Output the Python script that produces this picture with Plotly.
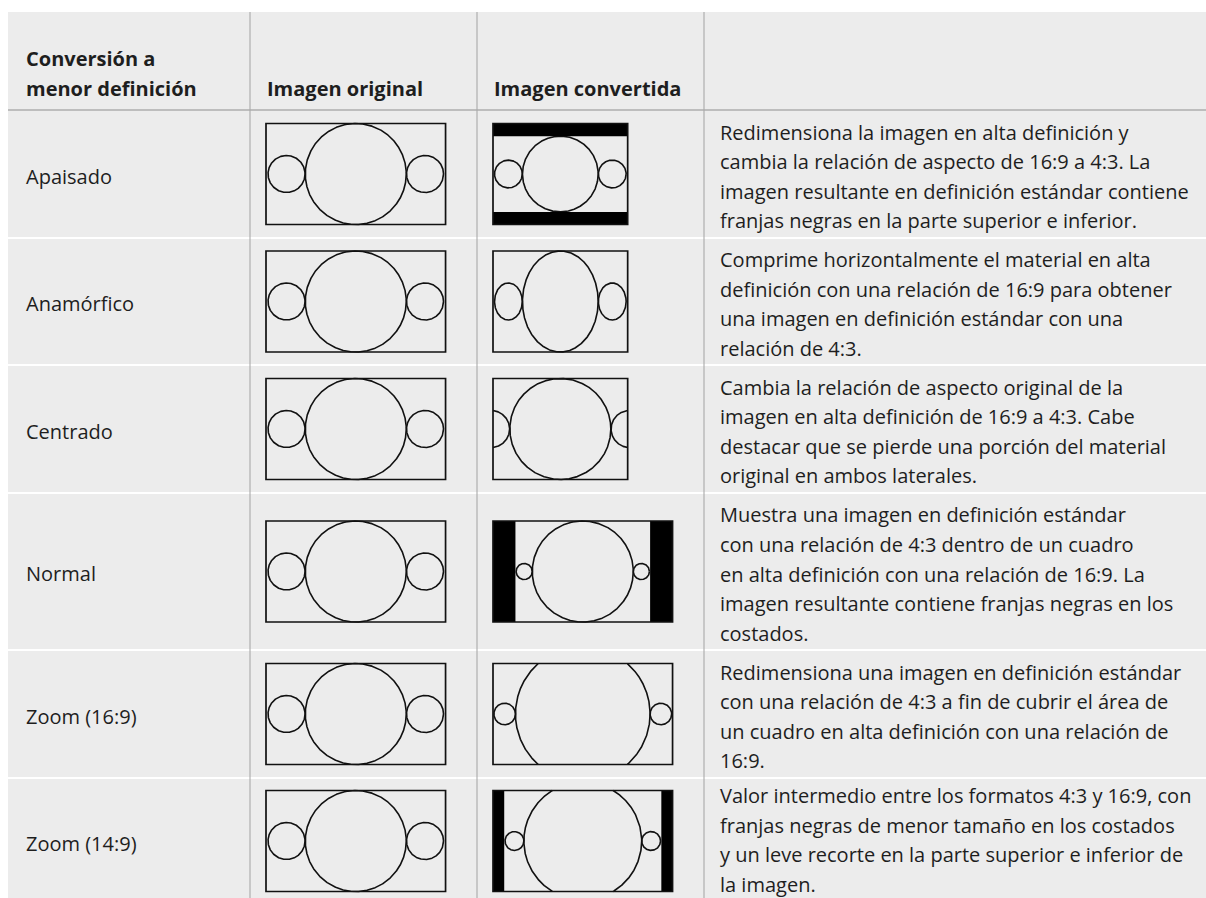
import numpy as np
import plotly.graph_objects as go

W, H = 1206, 898

# ---------------- data ----------------
header_col1 = ["Conversión a", "menor definición"]
header_col2 = "Imagen original"
header_col3 = "Imagen convertida"

modes = ["Apaisado", "Anamórfico", "Centrado", "Normal", "Zoom (16:9)", "Zoom (14:9)"]

descriptions = [
    ["Redimensiona la imagen en alta definición y",
     "cambia la relación de aspecto de 16:9 a 4:3. La",
     "imagen resultante en definición estándar contiene",
     "franjas negras en la parte superior e inferior."],
    ["Comprime horizontalmente el material en alta",
     "definición con una relación de 16:9 para obtener",
     "una imagen en definición estándar con una",
     "relación de 4:3."],
    ["Cambia la relación de aspecto original de la",
     "imagen en alta definición de 16:9 a 4:3. Cabe",
     "destacar que se pierde una porción del material",
     "original en ambos laterales."],
    ["Muestra una imagen en definición estándar",
     "con una relación de 4:3 dentro de un cuadro",
     "en alta definición con una relación de 16:9. La",
     "imagen resultante contiene franjas negras en los",
     "costados."],
    ["Redimensiona una imagen en definición estándar",
     "con una relación de 4:3 a fin de cubrir el área de",
     "un cuadro en alta definición con una relación de",
     "16:9."],
    ["Valor intermedio entre los formatos 4:3 y 16:9, con",
     "franjas negras de menor tamaño en los costados",
     "y un leve recorte en la parte superior e inferior de",
     "la imagen."],
]

# source pictures (units: picture height = 9)
hd_size = (16.0, 9.0)
hd_circles = [(8.0, 4.5, 4.5), (1.83, 4.5, 1.65), (14.17, 4.5, 1.65)]
sd_size = (12.0, 9.0)
sd_circles = [(6.0, 4.5, 4.5), (0.78, 4.5, 0.72), (11.22, 4.5, 0.72)]

# per row conversion: source, output frame width, scale x, scale y
conv_source = ["hd", "hd", "hd", "sd", "sd", "sd"]
conv_out_w = [12.0, 12.0, 12.0, 16.0, 16.0, 16.0]
conv_sx = [0.75, 0.75, 1.0, 1.0, 4 / 3, 7 / 6]
conv_sy = [0.75, 1.0, 1.0, 1.0, 4 / 3, 7 / 6]

# ---------------- layout constants ----------------
table_left, table_top = 8, 12
header_bottom = 110
row_edges = [110, 238, 365, 493, 650, 778, 908]
col_lines = [250, 477, 704]
grey = "#ececec"
ink = "#111111"
text_col = "#1e1e1e"
FONT = "Open Sans"
FS = 20
LINE_GAP = 29.6
frame_h = 101.0
unit = frame_h / 9.0
orig_left = 266
conv_left = 493

fig = go.Figure()
shapes = []
annotations = []

shapes.append(dict(type="rect", xref="x", yref="y", x0=table_left, x1=W + 5,
                   y0=table_top, y1=H + 5, fillcolor=grey, line=dict(width=0), layer="below"))
shapes.append(dict(type="line", xref="x", yref="y", x0=table_left, x1=W + 5,
                   y0=header_bottom, y1=header_bottom, line=dict(color="#bdbdbd", width=2.2), layer="below"))
for y in row_edges[1:-1]:
    shapes.append(dict(type="line", xref="x", yref="y", x0=table_left, x1=W + 5,
                       y0=y, y1=y, line=dict(color="#ffffff", width=2), layer="below"))
for x in col_lines:
    shapes.append(dict(type="line", xref="x", yref="y", x0=x, x1=x,
                       y0=table_top, y1=H + 5, line=dict(color="#a9a9a9", width=1.1), layer="below"))

cx_all, cy_all = [], []


def add_picture(left, top, src, out_w, sx, sy):
    if src == "hd":
        (sw, sh), circles = hd_size, hd_circles
    else:
        (sw, sh), circles = sd_size, sd_circles
    out_h = 9.0
    cw, ch = sw * sx, sh * sy
    ox, oy = (out_w - cw) / 2, (out_h - ch) / 2
    ax0, ax1 = max(0.0, ox), min(out_w, ox + cw)
    ay0, ay1 = max(0.0, oy), min(out_h, oy + ch)

    def px(u):
        return left + u * unit

    def py(v):
        return top + v * unit

    bars = []
    if ax0 > 0:
        bars.append((0, ax0, 0, out_h))
    if ax1 < out_w:
        bars.append((ax1, out_w, 0, out_h))
    if ay0 > 0:
        bars.append((0, out_w, 0, ay0))
    if ay1 < out_h:
        bars.append((0, out_w, ay1, out_h))
    for (a, b, c, d) in bars:
        shapes.append(dict(type="rect", xref="x", yref="y", x0=px(a), x1=px(b), y0=py(c), y1=py(d),
                           fillcolor="#000000", line=dict(width=0)))
    t = np.linspace(0, 2 * np.pi, 2400)
    for (ccx, ccy, r) in circles:
        u = ox + (ccx + r * np.cos(t)) * sx
        v = oy + (ccy + r * np.sin(t)) * sy
        inside = (u >= ax0 - 1e-9) & (u <= ax1 + 1e-9) & (v >= ay0 - 1e-9) & (v <= ay1 + 1e-9)
        xs = [px(a) if ok else None for a, ok in zip(u, inside)]
        ys = [py(b) if ok else None for b, ok in zip(v, inside)]
        cx_all.extend(xs + [None])
        cy_all.extend(ys + [None])
    shapes.append(dict(type="rect", xref="x", yref="y", x0=px(0), x1=px(out_w), y0=py(0), y1=py(out_h),
                       line=dict(color=ink, width=1.7), fillcolor="rgba(0,0,0,0)"))


for i, mode in enumerate(modes):
    y0, y1 = row_edges[i], row_edges[i + 1]
    yc = (y0 + y1) / 2
    text_shift = 2.5
    if i == len(modes) - 1:
        yc = 841
        text_shift = -1.0
    top = yc - frame_h / 2
    add_picture(orig_left, top, "hd", 16.0, 1.0, 1.0)
    add_picture(conv_left, top, conv_source[i], conv_out_w[i], conv_sx[i], conv_sy[i])
    annotations.append(dict(x=24, y=yc + 2, xref="x", yref="y", text=mode, showarrow=False,
                            xanchor="left", yanchor="middle",
                            font=dict(family=FONT, size=FS, color=text_col)))
    lines = descriptions[i]
    n = len(lines)
    for k, line in enumerate(lines):
        ly = yc + text_shift + (k - (n - 1) / 2) * LINE_GAP
        annotations.append(dict(x=718, y=ly, xref="x", yref="y", text=line, showarrow=False,
                                xanchor="left", yanchor="middle",
                                font=dict(family=FONT, size=FS, color=text_col)))

hdr_font = dict(family=FONT, size=FS, color=text_col)
annotations.append(dict(x=24, y=58, xref="x", yref="y", text="<b>%s</b>" % header_col1[0], showarrow=False,
                        xanchor="left", yanchor="middle", font=hdr_font))
annotations.append(dict(x=24, y=88, xref="x", yref="y", text="<b>%s</b>" % header_col1[1], showarrow=False,
                        xanchor="left", yanchor="middle", font=hdr_font))
annotations.append(dict(x=265, y=88, xref="x", yref="y", text="<b>%s</b>" % header_col2, showarrow=False,
                        xanchor="left", yanchor="middle", font=hdr_font))
annotations.append(dict(x=492, y=88, xref="x", yref="y", text="<b>%s</b>" % header_col3, showarrow=False,
                        xanchor="left", yanchor="middle", font=hdr_font))

fig.add_trace(go.Scatter(x=cx_all, y=cy_all, mode="lines", line=dict(color=ink, width=1.6),
                         hoverinfo="skip", showlegend=False, connectgaps=False))

fig.update_layout(
    width=W, height=H, margin=dict(l=0, r=0, t=0, b=0),
    paper_bgcolor="#ffffff", plot_bgcolor="#ffffff",
    xaxis=dict(range=[0, W], visible=False, fixedrange=True),
    yaxis=dict(range=[H, 0], visible=False, fixedrange=True),
    shapes=shapes, annotations=annotations, showlegend=False,
)

fig.write_html("out.html", config={"displayModeBar": False},
               post_script="document.body.style.margin='0';document.body.style.overflow='hidden';")
